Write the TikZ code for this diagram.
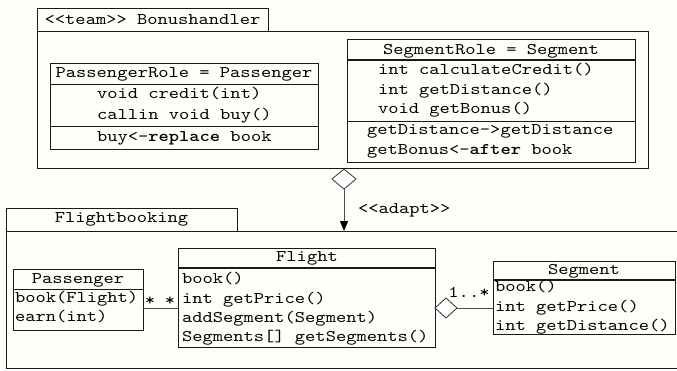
\documentclass[tikz,border=0pt]{standalone}
\usepackage{fontspec}
\setmonofont{lmmono10-regular.otf}[BoldFont=lmmonolt10-bold.otf,FakeStretch=1.2]
\usetikzlibrary{shapes.geometric,arrows.meta}
\definecolor{paper}{RGB}{255,255,250}

\begin{document}
\begin{tikzpicture}[
		x=1pt, y=-1pt,
		font=\ttfamily\fontsize{16.3}{20}\selectfont,
		every node/.style={inner sep=0pt, outer sep=0pt},
		box/.style={draw=black!90, line width=1pt, fill=paper, anchor=north west},
		row/.style={anchor=base west},
		head/.style={anchor=base},
		sep/.style={draw=black!90, line width=1pt},
		thicksep/.style={draw=black!90, line width=2.2pt},
		link/.style={draw=black!70, line width=1pt},
		hollow/.style={diamond, draw=black!80, fill=white, line width=.8pt, minimum width=24pt, minimum height=20pt}
	]
	\useasboundingbox[fill=paper] (0,0) rectangle (677,370);

	% team package
	\node[box, minimum width=611pt, minimum height=137pt] (teambody) at (37,31) {};
	\node[box, minimum width=231pt, minimum height=23pt] (teamtab) at (37,8) {<{}<team>{}> Bonushandler};

	\node[box, minimum width=268pt, minimum height=86pt] (passrole) at (50,63) {};
	\draw[sep] ([yshift=-21pt]passrole.north west) -- ([yshift=-21pt]passrole.north east);
	\draw[sep] ([yshift=-63pt]passrole.north west) -- ([yshift=-63pt]passrole.north east);
	\node[head] (passrolehead) at (184,77) {PassengerRole = Passenger};
	\node[row] (credit) at (97,98) {void credit(int)};
	\node[row] (buy) at (97,119) {callin void buy()};
	\node[row] (buybind) at (97,141) {buy<-\textbf{replace} book};

	\node[box, minimum width=288pt, minimum height=123pt] (segrole) at (347,39) {};
	\draw[thicksep] ([yshift=-21pt]segrole.north west) -- ([yshift=-21pt]segrole.north east);
	\draw[sep] ([yshift=-82pt]segrole.north west) -- ([yshift=-82pt]segrole.north east);
	\node[head] (segrolehead) at (491,54) {SegmentRole = Segment};
	\node[row] (calc) at (378,74) {int calculateCredit()};
	\node[row] (getdist) at (378,94) {int getDistance()};
	\node[row] (getbonus) at (378,113) {void getBonus()};
	\node[row] (distbind) at (367,134) {getDistance->getDistance};
	\node[row] (bonusbind) at (367,154) {getBonus<-\textbf{after} book};

	% flightbooking package
	\draw[box] (677,231) -- (6,231) -- (6,368) -- (677,368);
	\node[box, minimum width=231pt, minimum height=23pt] (fbtab) at (6,208) {Flightbooking};
	\coordinate (fbtop) at (344,231);

	\node[box, minimum width=130pt, minimum height=61pt] (passenger) at (13,269) {};
	\draw[sep] ([yshift=-20pt]passenger.north west) -- ([yshift=-20pt]passenger.north east);
	\node[head] (passengerhead) at (78,283) {Passenger};
	\node[row] (book) at (15,302) {book(Flight)};
	\node[row] (earn) at (15,321) {earn(int)};

	\node[box, minimum width=257pt, minimum height=99pt] (flight) at (178,248) {};
	\draw[thicksep] ([yshift=-20pt]flight.north west) -- ([yshift=-20pt]flight.north east);
	\node[head] (flighthead) at (307,261) {Flight};
	\node[row] (fbook) at (182,283) {book()};
	\node[row] (fprice) at (182,303) {int getPrice()};
	\node[row] (fadd) at (182,322) {addSegment(Segment)};
	\node[row] (fsegs) at (182,341) {Segments[] getSegments()};

	\node[box, minimum width=182pt, minimum height=73pt] (segment) at (493,261) {};
	\draw[thicksep] ([yshift=-19pt]segment.north west) -- ([yshift=-19pt]segment.north east);
	\node[head] (segmenthead) at (584,274) {Segment};
	\node[row] (sbook) at (495,291) {book()};
	\node[row] (sprice) at (495,311) {int getPrice()};
	\node[row] (sdist) at (495,330) {int getDistance()};

	% connectors
	\node[hollow] (adapt) at (344,179) {};
	\draw[link, -{Triangle[length=10pt,width=8pt,color=black]}] (adapt.south) -- (fbtop);
	\node[row] (adaptlabel) at (358,213) {<{}<adapt>{}>};

	\draw[link] (passenger.east |- 0,308) -- (flight.west |- 0,308);
	\node[head] (pstar) at (150,305) {*};
	\node[head] (fstar) at (170,305) {*};

	\node[hollow, minimum width=22pt, anchor=west] (agg) at (flight.east |- 0,308) {};
	\draw[link] (agg.east) -- (segment.west |- agg.east);
	\node[head] (mult) at (469,297) {1..*};
\end{tikzpicture}
\end{document}
